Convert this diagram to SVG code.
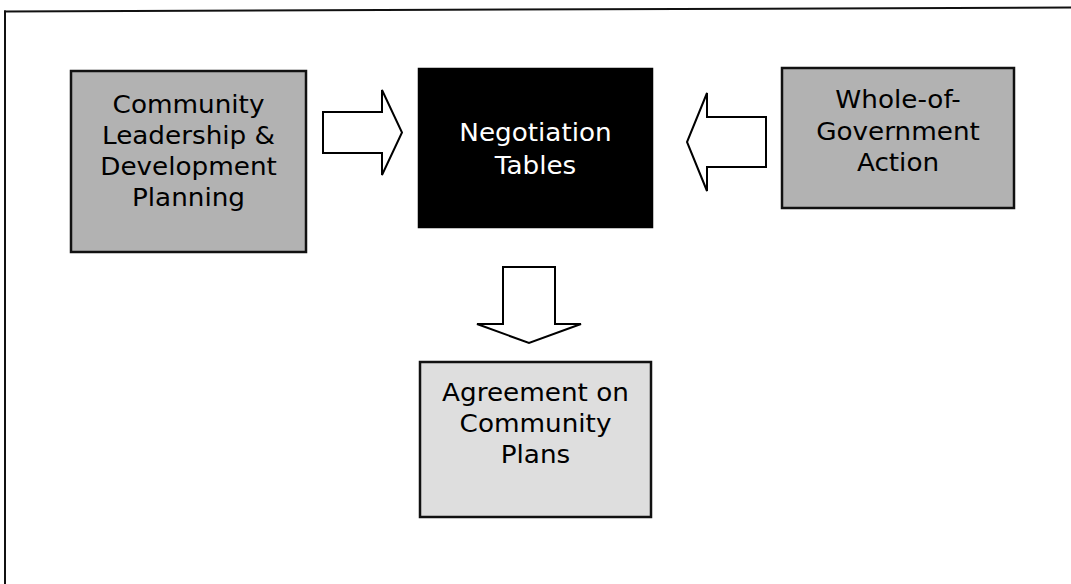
<svg xmlns="http://www.w3.org/2000/svg" width="1071" height="584" viewBox="0 0 1071 584">
  <style>
    .frame { stroke: #111; stroke-width: 2; fill: none; }
    .box { stroke: #111; stroke-width: 2.5; }
    .dark { fill: #b2b2b2; }
    .light { fill: #dedede; }
    .black { fill: #000; stroke: #000; }
    .arrow { fill: #fff; stroke: #000; stroke-width: 2; stroke-linejoin: miter; }
    .lbl { font-family: "DejaVu Sans", Verdana, sans-serif; font-size: 25px; text-anchor: middle; fill: #000; }
    .lbl.w { fill: #fff; }
  </style>
  <rect width="1071" height="584" fill="#fff"/>
  <g id="frame">
    <line class="frame" x1="4" y1="11.5" x2="1071" y2="7.5"/>
    <line class="frame" x1="5" y1="10.5" x2="5" y2="584"/>
  </g>
  <g id="connectors">
    <polygon class="arrow" points="323,112 382,112 382,90 402,132.5 382,175 382,153 323,153"/>
    <polygon class="arrow" points="766,117 707,117 707,93 687,142 707,191 707,167 766,167"/>
    <polygon class="arrow" points="503,267 555,267 555,324 581,324 529,343 477,324 503,324"/>
  </g>
  <g id="community-leadership">
    <rect class="box dark" x="71" y="71" width="235" height="181"/>
    <g transform="translate(188.5 0) scale(1.05 1)">
      <text class="lbl" x="0" y="113">Community</text>
      <text class="lbl" x="0" y="144">Leadership &amp;</text>
      <text class="lbl" x="0" y="175">Development</text>
      <text class="lbl" x="0" y="206">Planning</text>
    </g>
  </g>
  <g id="negotiation-tables">
    <rect class="box black" x="419" y="69" width="233" height="158"/>
    <g transform="translate(535.5 0) scale(1.05 1)">
      <text class="lbl w" x="0" y="141">Negotiation</text>
      <text class="lbl w" x="0" y="174">Tables</text>
    </g>
  </g>
  <g id="whole-of-government">
    <rect class="box dark" x="782" y="68" width="232" height="140"/>
    <g transform="translate(898 0) scale(1.05 1)">
      <text class="lbl" x="0" y="108">Whole-of-</text>
      <text class="lbl" x="0" y="140">Government</text>
      <text class="lbl" x="0" y="171">Action</text>
    </g>
  </g>
  <g id="agreement">
    <rect class="box light" x="420" y="362" width="231" height="155"/>
    <g transform="translate(535.5 0) scale(1.05 1)">
      <text class="lbl" x="0" y="401">Agreement on</text>
      <text class="lbl" x="0" y="432">Community</text>
      <text class="lbl" x="0" y="463">Plans</text>
    </g>
  </g>
</svg>
